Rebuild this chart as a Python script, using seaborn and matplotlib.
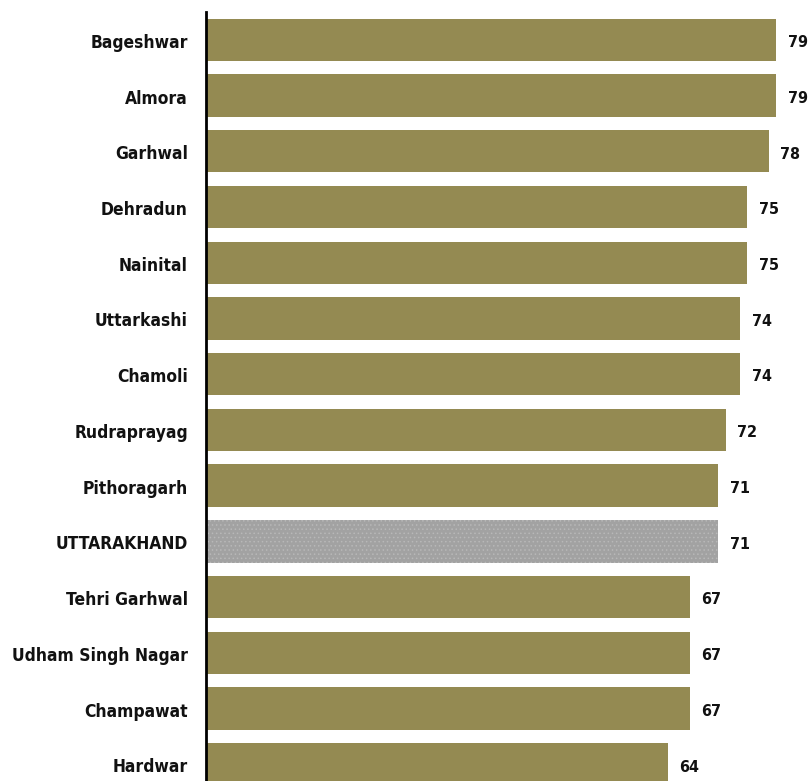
import matplotlib
matplotlib.use("Agg")
import matplotlib.pyplot as plt
import matplotlib.transforms as mtransforms
import seaborn as sns
import pandas as pd

districts = ["Bageshwar", "Almora", "Garhwal", "Dehradun", "Nainital", "Uttarkashi",
             "Chamoli", "Rudraprayag", "Pithoragarh", "UTTARAKHAND", "Tehri Garhwal",
             "Udham Singh Nagar", "Champawat", "Hardwar"]
values = [79, 79, 78, 75, 75, 74, 74, 72, 71, 71, 67, 67, 67, 64]
state_name = "UTTARAKHAND"

OLIVE = "#948A52"
GREY = "#A2A2A2"

sns.set_theme(style="white")
plt.rcParams["font.family"] = ["DejaVu Sans", "Liberation Sans"]
plt.rcParams["font.stretch"] = "condensed"
plt.rcParams["hatch.linewidth"] = 0.6

df = pd.DataFrame({"district": districts, "value": values})

fig = plt.figure(figsize=(8.09, 7.81), dpi=100)
ax = fig.add_axes([206 / 809, 0.0, 599 / 809, 1 - 12 / 781])

palette = {d: (GREY if d == state_name else OLIVE) for d in districts}
sns.barplot(data=df, x="value", y="district", hue="district", palette=palette,
            order=districts, width=0.76, saturation=1, legend=False, ax=ax,
            linewidth=0)

for patch, d in zip(ax.patches, districts):
    if d == state_name:
        patch.set_hatch("....")
        patch.set_edgecolor("#B8B8B8")
        patch.set_linewidth(0)

for i, v in enumerate(values):
    ax.text(v + 1.6, i + 0.05, f"{v}", va="center", ha="left",
            fontsize=11.5, fontweight="bold", color="#111111",
            fontstretch="condensed")

ax.set_xlim(0, 83)
ax.set_ylim(13.3, -0.5)
ax.set_xlabel("")
ax.set_ylabel("")
ax.set_xticks([])
for side in ("top", "right", "bottom"):
    ax.spines[side].set_visible(False)
ax.spines["left"].set_color("black")
ax.spines["left"].set_linewidth(2)
ax.tick_params(axis="y", length=0, pad=13)
shift = mtransforms.ScaledTranslation(0, -1 / 100, fig.dpi_scale_trans)
for lbl in ax.get_yticklabels():
    lbl.set_fontsize(12.5)
    lbl.set_fontweight("bold")
    lbl.set_fontstretch("condensed")
    lbl.set_color("#111111")
    lbl.set_transform(lbl.get_transform() + shift)

fig.savefig("out.png", dpi=100, facecolor="white")
